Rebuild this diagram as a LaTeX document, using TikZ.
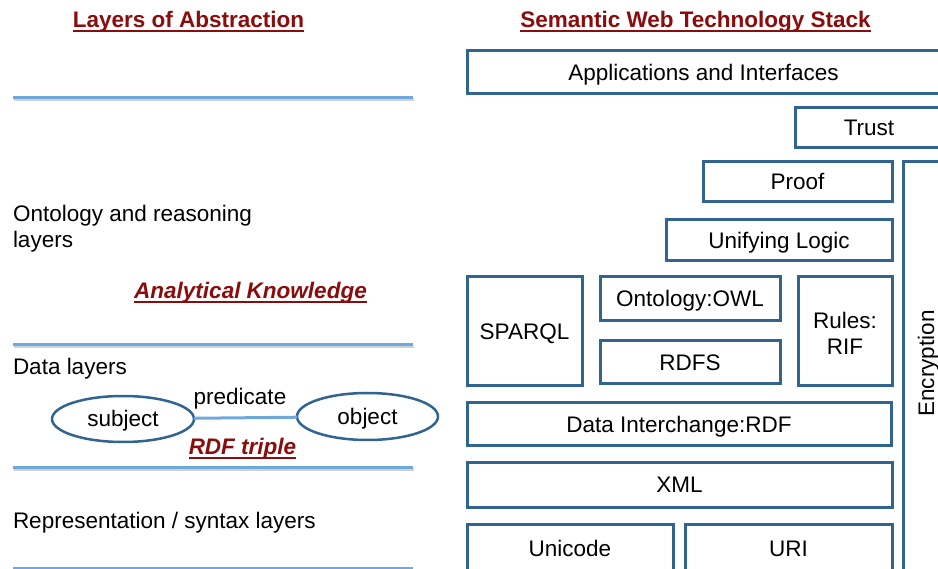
\documentclass[tikz,border=0pt]{standalone}
\usepackage{fontspec}
\setmainfont{Liberation Sans}
\usetikzlibrary{shadows,shapes.geometric}
\definecolor{darkred}{RGB}{139,12,12}
\definecolor{boxblue}{RGB}{50,100,145}
\definecolor{lineblue}{RGB}{111,168,220}
\newcommand\myul[1]{\setbox0\hbox{#1}\rlap{\rule[-4pt]{\wd0}{1.5pt}}\box0}
\tikzset{
  every node/.style={inner sep=0pt, outer sep=0pt},
  big/.style={font=\fontsize{22.5}{26}\selectfont},
  title/.style={big, font=\fontsize{22.5}{26}\selectfont\bfseries, text=darkred},
  emph/.style={big, font=\fontsize{22.5}{26}\selectfont\bfseries\itshape, text=darkred},
  lt/.style={big, anchor=base west},
  stackbox/.style={draw=boxblue, line width=3pt, fill=white, big, text height=16pt, text depth=0pt,
     drop shadow={shadow xshift=1.2pt, shadow yshift=-1.5pt, opacity=.3, fill=black}},
  oval/.style={ellipse, draw=boxblue, line width=2.5pt, big, text height=16pt, text depth=0pt},
  sepline/.style={draw=lineblue, line width=3pt},
  sepshadow/.style={draw=black, opacity=.18, line width=2pt},
  conn/.style={draw=lineblue, line width=3pt},
}
\begin{document}
\begin{tikzpicture}[x=1pt,y=-1pt]
\useasboundingbox (0,0) rectangle (938,569);
\clip (0,0) rectangle (938,569);
\fill[white] (0,0) rectangle (938,569);

% titles
\node[title, anchor=base] (t1) at (188.5,28) {\myul{Layers of Abstraction}};
\node[title, anchor=base] (t2) at (695.5,28) {\myul{Semantic Web Technology Stack}};

% left separator lines
\foreach \yy/\nm in {98/a,345/b,468/c,568/d}{
  \coordinate (l\nm1) at (13,\yy);
  \coordinate (l\nm2) at (413,\yy);
  \draw[sepshadow] ([shift={(1,2)}]l\nm1) -- ([shift={(1,2)}]l\nm2);
  \draw[sepline] (l\nm1) -- (l\nm2);
}

% left texts
\node[big, align=left, anchor=west] (ont) at (13,229) {Ontology and reasoning\\layers};
\node[emph, anchor=base] (ak) at (250.5,299) {\myul{Analytical Knowledge}};
\node[lt] (dl) at (13,375) {Data layers};
\node[oval, minimum width=142pt, minimum height=46pt] (subj) at (123,419) {subject};
\node[oval, minimum width=141pt, minimum height=47pt] (obj) at (367.5,416.5) {object};
\draw[conn] (subj) -- (obj);
\node[big, anchor=base] (pred) at (240,405) {predicate};
\node[emph, anchor=base] (rdft) at (242.5,455) {\myul{RDF triple}};
\node[lt] (rep) at (13,528) {Representation / syntax layers};

% stack
\node[stackbox, minimum width=473pt, minimum height=43pt] (app) at (703.5,72.5) {Applications and Interfaces};
\node[stackbox, minimum width=148pt, minimum height=40pt] (trust) at (869,128) {Trust};
\node[stackbox, minimum width=189pt, minimum height=40pt] (proof) at (797.5,182) {Proof};
\node[stackbox, minimum width=46pt, minimum height=413pt] (enc) at (926,368.5) {};
\node[big, rotate=90, text height=16pt, text depth=0pt] (enct) at (926,363.5) {Encryption};
\node[stackbox, minimum width=226pt, minimum height=41pt] (ul) at (779,240.5) {Unifying Logic};
\node[stackbox, minimum width=115pt, minimum height=109pt] (sparql) at (524.5,331.5) {SPARQL};
\node[stackbox, minimum width=180pt, minimum height=44pt] (owl) at (690,299) {Ontology:OWL};
\node[stackbox, minimum width=180pt, minimum height=43pt] (rdfs) at (690,362.5) {RDFS};
\node[stackbox, minimum width=94pt, minimum height=109pt] (rules) at (845,331.5) {};
\node[big, align=center] (rulest) at (845,333.5) {Rules:\\RIF};
\node[stackbox, minimum width=424pt, minimum height=43pt] (rdf) at (679,424.5) {Data Interchange:RDF};
\node[stackbox, minimum width=425pt, minimum height=44pt] (xml) at (679.5,485) {XML};
\node[stackbox, minimum width=206pt, minimum height=48pt] (uni) at (570,548) {Unicode};
\node[stackbox, minimum width=207pt, minimum height=48pt] (uri) at (788.5,548) {URI};
\end{tikzpicture}
\end{document}
